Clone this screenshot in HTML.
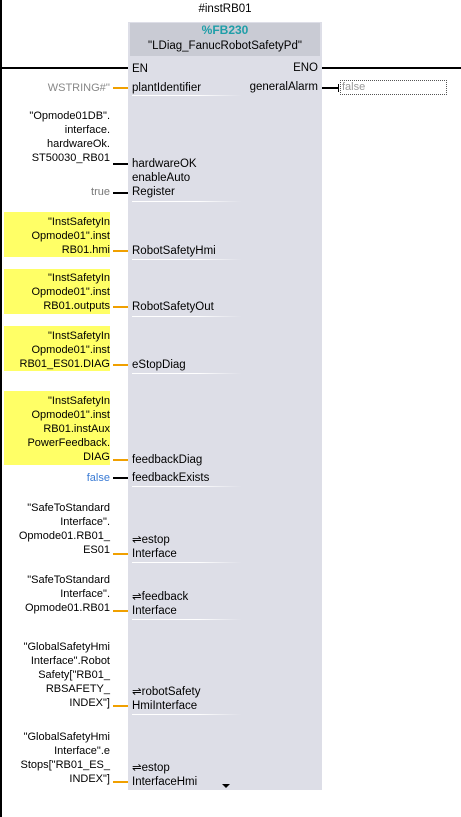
<!DOCTYPE html><html><head><style>
body{margin:0;width:461px;height:817px;background:#fff;position:relative;overflow:hidden;font-family:"Liberation Sans","DejaVu Sans",sans-serif;font-size:11px;color:#000}
div{position:absolute}
.l{right:351px;text-align:right;line-height:14px;white-space:nowrap}
.y{background:#ffff66}
.p{left:132px;line-height:14px;white-space:nowrap;font-size:11.5px}
.c{left:113px;width:15px;height:2px;background:#f0a000}
.k{background:#000}
.u{left:132px;width:110px;height:1px;background:linear-gradient(90deg,#fff,#fff 60%,rgba(255,255,255,0))}
</style></head><body>
<div style="left:0;top:0;width:2px;height:817px;background:#000"></div>
<div style="left:0;top:67px;width:128px;height:2px;background:#000"></div>
<div style="left:322px;top:67px;width:139px;height:2px;background:#000"></div>
<div style="left:128px;top:22px;width:194px;height:768px;background:#dddee7"></div>
<div style="left:130px;top:23px;width:190px;height:33px;background:#c9cbd4"></div>
<div style="left:128px;top:3px;width:194px;text-align:center;font-size:11.5px">#instRB01</div>
<div style="left:128px;top:23px;width:194px;text-align:center;font-size:12px;font-weight:bold;color:#1f9ea8">%FB230</div>
<div style="left:128px;top:40px;width:194px;text-align:center;font-size:11.5px">"LDiag_FanucRobotSafetyPd"</div>
<div class="p" style="top:62px">EN</div>
<div style="left:250px;width:68px;top:62px;text-align:right;font-size:11.5px">ENO</div>
<div style="left:230px;width:88px;top:81px;text-align:right;font-size:11.5px">generalAlarm</div>
<div style="left:322px;top:87px;width:16px;height:2px;background:#000"></div>
<div style="left:338px;top:84px;width:1px;height:8px;background:#000"></div>
<div style="left:340px;top:80px;width:104px;height:13px;border:1px dotted #555;color:#999;line-height:13px;padding-left:1px">false</div>

<div class="l" style="top:81px;color:#888">WSTRING#''</div><div class="c" style="top:87px"></div><div class="p" style="top:81px">plantIdentifier</div>
<div class="l" style="top:109px">"Opmode01DB".<br>interface.<br>hardwareOk.<br>ST50030_RB01</div><div class="c k" style="top:163px"></div><div class="p" style="top:157px">hardwareOK</div>
<div class="p" style="top:171px">enableAuto<br>Register</div>
<div class="l" style="top:185px;color:#777">true</div><div class="c k" style="top:192px"></div>

<div class="y" style="left:4px;top:212px;width:106px;height:45px"></div>
<div class="l" style="top:215px">"InstSafetyIn<br>Opmode01".inst<br>RB01.hmi</div><div class="c" style="top:250px"></div><div class="p" style="top:244px">RobotSafetyHmi</div>
<div class="y" style="left:4px;top:269px;width:106px;height:45px"></div>
<div class="l" style="top:271px">"InstSafetyIn<br>Opmode01".inst<br>RB01.outputs</div><div class="c" style="top:306px"></div><div class="p" style="top:300px">RobotSafetyOut</div>
<div class="y" style="left:4px;top:326px;width:106px;height:45px"></div>
<div class="l" style="top:329px">"InstSafetyIn<br>Opmode01".inst<br>RB01_ES01.DIAG</div><div class="c" style="top:364px"></div><div class="p" style="top:358px">eStopDiag</div>
<div class="y" style="left:4px;top:391px;width:106px;height:74px"></div>
<div class="l" style="top:394px">"InstSafetyIn<br>Opmode01".inst<br>RB01.instAux<br>PowerFeedback.<br>DIAG</div><div class="c" style="top:459px"></div><div class="p" style="top:453px">feedbackDiag</div>
<div class="l" style="top:471px;color:#3a7bd5">false</div><div class="c k" style="top:477px"></div><div class="p" style="top:471px">feedbackExists</div>

<div class="l" style="top:501px">"SafeToStandard<br>Interface".<br>Opmode01.RB01_<br>ES01</div><div class="c" style="top:553px"></div><div class="p" style="top:533px">⇌estop<br>Interface</div>
<div class="l" style="top:573px">"SafeToStandard<br>Interface".<br>Opmode01.RB01</div><div class="c" style="top:610px"></div><div class="p" style="top:590px">⇌feedback<br>Interface</div>
<div class="l" style="top:640px">"GlobalSafetyHmi<br>Interface".Robot<br>Safety["RB01_<br>RBSAFETY_<br>INDEX"]</div><div class="c" style="top:705px"></div><div class="p" style="top:685px">⇌robotSafety<br>HmiInterface</div>
<div class="l" style="top:730px">"GlobalSafetyHmi<br>Interface".e<br>Stops["RB01_ES_<br>INDEX"]</div><div class="c" style="top:781px"></div><div class="p" style="top:761px">⇌estop<br>InterfaceHmi</div>
<div style="left:222px;top:784px;width:0;height:0;border-left:4px solid transparent;border-right:4px solid transparent;border-top:4px solid #000"></div>
<div class="u" style="top:95px"></div><div class="u" style="top:201px"></div><div class="u" style="top:259px"></div><div class="u" style="top:316px"></div><div class="u" style="top:373px"></div><div class="u" style="top:486px"></div><div class="u" style="top:562px"></div><div class="u" style="top:619px"></div><div class="u" style="top:714px"></div>
</body></html>
